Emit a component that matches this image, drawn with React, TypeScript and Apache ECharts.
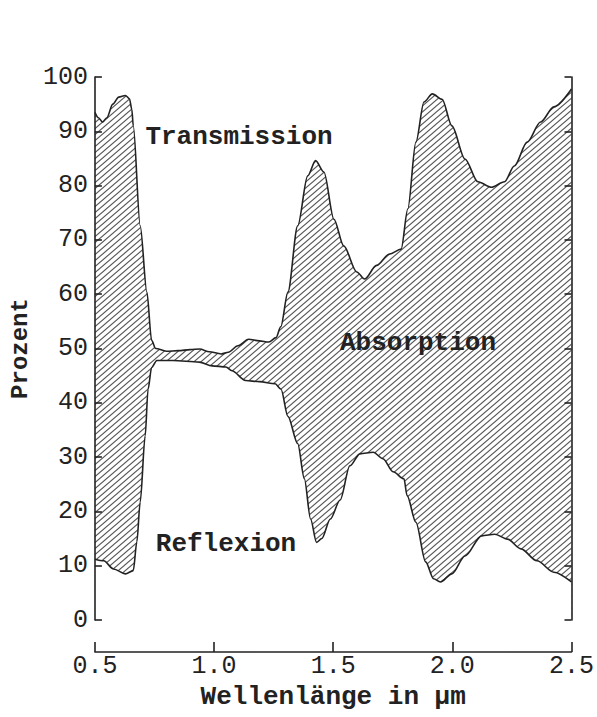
import React, { useEffect, useRef } from "react";
import * as echarts from "echarts";

// Upper boundary (Reflexion + Absorption), % vs wavelength in µm
const upperWavelength = [
  0.5, 0.515, 0.532, 0.55, 0.575, 0.6, 0.628, 0.645, 0.655, 0.661, 0.69, 0.718, 0.738, 0.755,
  0.8, 0.85, 0.9, 0.94, 0.98, 1.03, 1.06, 1.1, 1.145, 1.19, 1.23, 1.26, 1.28, 1.31, 1.351,
  1.393, 1.426, 1.461, 1.503, 1.544, 1.599, 1.632, 1.682, 1.736, 1.785, 1.813, 1.847, 1.881,
  1.916, 1.957, 1.998, 2.053, 2.107, 2.164, 2.219, 2.26, 2.314, 2.37, 2.426, 2.5,
];
const upperPercent = [
  93.5, 92.5, 91.7, 92.5, 95, 96.3, 96.6, 96.0, 94, 91, 72.6, 60.4, 51.5, 50.0,
  49.5, 49.6, 49.8, 49.9, 49.4, 49.0, 49.3, 50.5, 51.7, 51.4, 51.2, 52.0, 54, 60.4, 72.6,
  81.8, 84.6, 82.5, 73.8, 68.9, 64.1, 62.8, 65.3, 67.4, 68.3, 75.7, 88, 95.4,
  96.9, 95.9, 91, 84.9, 80.7, 79.7, 80.7, 83.6, 88, 91.7, 94.5, 97.8,
];

// Lower boundary (Reflexion), % vs wavelength in µm
const lowerWavelength = [
  0.5, 0.537, 0.578, 0.628, 0.661, 0.676, 0.69, 0.711, 0.723, 0.738, 0.76, 0.827, 0.938,
  0.992, 1.05, 1.075, 1.132, 1.19, 1.256, 1.281, 1.31, 1.351, 1.379, 1.405, 1.43, 1.452,
  1.488, 1.529, 1.57, 1.612, 1.668, 1.709, 1.751, 1.797, 1.81, 1.847, 1.888, 1.921, 1.95,
  1.998, 2.053, 2.123, 2.178, 2.231, 2.288, 2.355, 2.426, 2.5,
];
const lowerPercent = [
  11.2, 10.9, 9.4, 8.5, 9.1, 14.4, 21.7, 33.9, 42.5, 46.5, 47.8, 47.8, 47.5,
  46.8, 46.6, 45.9, 44.1, 43.9, 43.5, 42.5, 37.5, 32.5, 26, 18.6, 14.3, 15.0,
  18.6, 22.1, 28.4, 30.6, 30.9, 29.7, 27.3, 26.0, 22.9, 18, 10.7, 7.6, 7.0,
  8.5, 11.8, 15.5, 15.8, 14.9, 13.1, 10.9, 8.8, 7.0,
];

const regionLabels = ["Transmission", "Absorption", "Reflexion"];
const xAxisTitle = "Wellenlänge in µm";
const yAxisTitle = "Prozent";

const FONT = "'Liberation Mono', 'DejaVu Sans Mono', monospace";
const INK = "#222";

function makeHatch(): HTMLCanvasElement {
  const w = 7;
  const h = 6;
  const c = document.createElement("canvas");
  c.width = w;
  c.height = h;
  const ctx = c.getContext("2d")!;
  ctx.fillStyle = "#ffffff";
  ctx.fillRect(0, 0, w, h);
  ctx.strokeStyle = "#555";
  ctx.lineWidth = 1.1;
  for (let k = -1; k <= 1; k++) {
    ctx.beginPath();
    ctx.moveTo(-w, 2 * h + h * k);
    ctx.lineTo(2 * w, -h + h * k);
    ctx.stroke();
  }
  return c;
}

export default function App() {
  const ref = useRef<HTMLDivElement>(null);

  useEffect(() => {
    document.body.style.margin = "0";
    if (!ref.current) return;
    const chart = echarts.init(ref.current, null, { renderer: "svg" });
    const hatch = makeHatch();

    const upper = upperWavelength.map((x, i) => [x, upperPercent[i]]);
    const lower = lowerWavelength.map((x, i) => [x, lowerPercent[i]]);

    const labelStyle = {
      fontFamily: FONT,
      fontSize: 26,
      fontWeight: "bold",
      fill: INK,
      align: "center",
      verticalAlign: "middle",
    };

    chart.setOption({
      animation: false,
      backgroundColor: "#ffffff",
      grid: { left: 93, right: 21, top: 77, bottom: 97 },
      xAxis: {
        type: "value",
        min: 0.5,
        max: 2.5,
        interval: 0.5,
        offset: 32,
        z: 10,
        axisLine: { show: true, onZero: false, lineStyle: { color: INK, width: 1.6 } },
        axisTick: { show: true, inside: true, length: 10, lineStyle: { color: INK, width: 1.6 } },
        axisLabel: {
          margin: 2,
          formatter: (v: number) => v.toFixed(1),
          color: INK,
          fontFamily: FONT,
          fontSize: 25,
        },
        splitLine: { show: false },
        name: xAxisTitle,
        nameLocation: "middle",
        nameGap: 25,
        nameTextStyle: { color: INK, fontFamily: FONT, fontSize: 26, fontWeight: "bold" },
      },
      yAxis: [
        {
          type: "value",
          min: 0,
          max: 100,
          interval: 10,
          position: "left",
          z: 10,
          axisLine: { show: true, onZero: false, lineStyle: { color: INK, width: 1.6 } },
          axisTick: { show: true, inside: true, length: 7, lineStyle: { color: INK, width: 1.6 } },
          axisLabel: { margin: 7, color: INK, fontFamily: FONT, fontSize: 25 },
          splitLine: { show: false },
          name: yAxisTitle,
          nameLocation: "middle",
          nameGap: 56,
          nameTextStyle: { color: INK, fontFamily: FONT, fontSize: 24, fontWeight: "bold" },
        },
        {
          type: "value",
          min: 0,
          max: 100,
          interval: 10,
          position: "right",
          z: 10,
          axisLine: { show: true, onZero: false, lineStyle: { color: INK, width: 1.6 } },
          axisTick: { show: true, inside: true, length: 7, lineStyle: { color: INK, width: 1.6 } },
          axisLabel: { show: false },
          splitLine: { show: false },
        },
      ],
      series: [
        {
          type: "line",
          name: "Absorption",
          data: upper,
          smooth: 0.3,
          smoothMonotone: "x",
          showSymbol: false,
          z: 2,
          lineStyle: { color: INK, width: 1.6 },
          areaStyle: {
            origin: "start",
            opacity: 1,
            color: { image: hatch, repeat: "repeat", imageWidth: 7, imageHeight: 6 },
          },
        },
        {
          type: "line",
          name: "Reflexion",
          data: lower,
          smooth: 0.3,
          smoothMonotone: "x",
          showSymbol: false,
          z: 3,
          lineStyle: { color: INK, width: 1.6 },
          areaStyle: { origin: "start", opacity: 1, color: "#ffffff" },
        },
      ],
      graphic: [
        { type: "text", x: 239, y: 137, z: 20, style: { ...labelStyle, text: regionLabels[0] } },
        { type: "text", x: 418, y: 343, z: 20, style: { ...labelStyle, text: regionLabels[1] } },
        { type: "text", x: 226, y: 544, z: 20, style: { ...labelStyle, text: regionLabels[2] } },
      ],
    });

    return () => chart.dispose();
  }, []);

  return <div ref={ref} style={{ width: 597, height: 717 }} />;
}
